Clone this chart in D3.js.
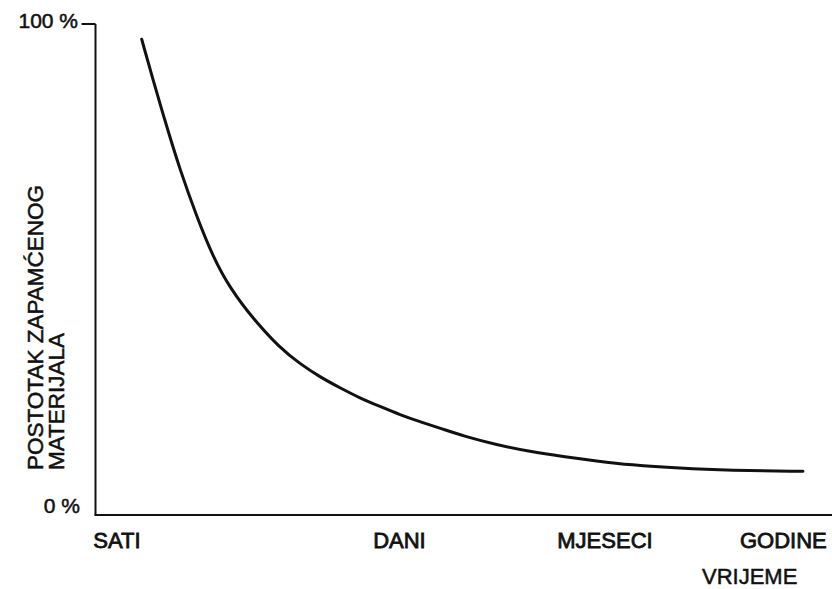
<!DOCTYPE html>
<html>
<head>
<meta charset="utf-8">
<script src="https://cdn.jsdelivr.net/npm/d3@7"></script>
<style>
  body { margin: 0; background: #fff; }
  text { font-family: "Liberation Sans", Arial, sans-serif; fill: #111; stroke: #111; stroke-width: 0.5px; }
</style>
</head>
<body>
<div id="chart"></div>
<script>
// vrijeme (relativna skala 0-100) i postotak zapamćenog materijala
const timePos = [6.27, 7.81, 9.67, 11.47, 13.74, 15.95, 18.26, 21.43, 25.05, 27.77, 30.48, 33.2, 35.92, 38.63, 41.35, 44.06, 46.78, 49.9, 54.47, 59.0, 63.48, 68.05, 72.55, 79.34, 86.08, 96.06];
const retained = [96.9, 88.6, 79.1, 70.3, 60.8, 52.6, 46.2, 39.9, 34.0, 30.8, 28.1, 25.9, 23.8, 22.1, 20.4, 19.0, 17.7, 16.1, 14.3, 12.9, 11.9, 11.0, 10.2, 9.5, 9.1, 8.9];

// oznake na osi x
const timeLabels = ["SATI", "DANI", "MJESECI", "GODINE"];
const timeLabelPos = [-0.3, 37.7, 62.7, 87.5];

const yTickLabels = ["0 %", "100 %"];
const yTickValues = [0, 100];

const W = 832, H = 589;
const svg = d3.select("#chart").append("svg")
  .attr("width", W).attr("height", H);

const x = d3.scaleLinear().domain([0, 100]).range([95.5, 832]);
const y = d3.scaleLinear().domain([0, 100]).range([515, 24]);

// osi
svg.append("line")
  .attr("x1", x(0)).attr("x2", x(0))
  .attr("y1", y(0)).attr("y2", y(100))
  .attr("stroke", "#111").attr("stroke-width", 2);
svg.append("line")
  .attr("x1", x(0) - 1).attr("x2", x(100))
  .attr("y1", y(0)).attr("y2", y(0))
  .attr("stroke", "#111").attr("stroke-width", 2.2);
// kratka crtica na 100 %
svg.append("line")
  .attr("x1", x(0) - 14).attr("x2", x(0))
  .attr("y1", y(100)).attr("y2", y(100))
  .attr("stroke", "#111").attr("stroke-width", 2);

// oznake osi y
svg.selectAll("text.ytick")
  .data(yTickValues)
  .enter().append("text")
  .attr("class", "ytick")
  .attr("x", (d, i) => i === 1 ? 78 : 80)
  .attr("y", d => y(d) + (d === 100 ? 4 : -2))
  .attr("text-anchor", "end")
  .style("font-size", "21px")
  .text((d, i) => yTickLabels[i]);

// oznake osi x
svg.selectAll("text.xtick")
  .data(timeLabels)
  .enter().append("text")
  .attr("class", "xtick")
  .attr("x", (d, i) => x(timeLabelPos[i]))
  .attr("y", 548)
  .style("font-size", "22px")
  .style("stroke-width", "0.8px")
  .text(d => d);

svg.append("text")
  .attr("x", 702).attr("y", 584)
  .style("font-size", "22px")
  .text("VRIJEME");

// naslov osi y (dva reda)
const yTitle = svg.append("g")
  .attr("transform", "translate(0,470) rotate(-90)");
yTitle.append("text")
  .attr("x", 0).attr("y", 43)
  .style("font-size", "22.5px")
  .text("POSTOTAK ZAPAMĆENOG");
yTitle.append("text")
  .attr("x", 0).attr("y", 64)
  .style("font-size", "22.5px")
  .text("MATERIJALA");

// krivulja zaboravljanja
const pts = timePos.map((t, i) => [t, retained[i]]);
const line = d3.line()
  .x(d => x(d[0]))
  .y(d => y(d[1]))
  .curve(d3.curveBasis);

svg.append("path")
  .datum(pts)
  .attr("d", line)
  .attr("fill", "none")
  .attr("stroke", "#111")
  .attr("stroke-width", 3)
  .attr("stroke-linecap", "round");
</script>
</body>
</html>
